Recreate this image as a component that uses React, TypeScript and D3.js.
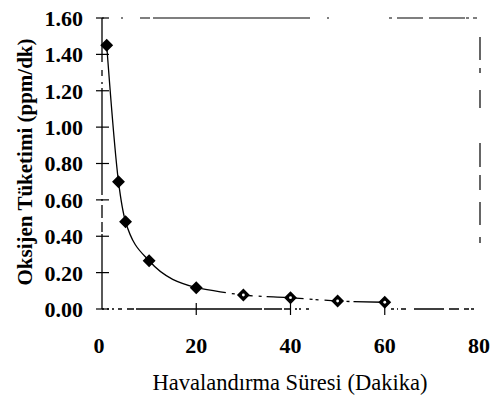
import * as d3 from "d3";
import { useRef, useEffect } from "react";

// aeration time (min) and oxygen consumption (ppm/min)
const minutes = [1, 3.5, 5, 10, 20, 30, 40, 50, 60];
const oxygen = [1.45, 0.7, 0.48, 0.265, 0.117, 0.077, 0.062, 0.044, 0.037];

const yTicks = [0, 0.2, 0.4, 0.6, 0.8, 1.0, 1.2, 1.4, 1.6];
const xTicks = [0, 20, 40, 60, 80];

const yTitle = "Oksijen Tüketimi (ppm/dk)";
const xTitle = "Havalandırma Süresi (Dakika)";

function App() {
  const width = 494;
  const height = 400;
  const svgRef = useRef(null);

  useEffect(() => {
    const svg = d3
      .select(svgRef.current)
      .attr("width", width)
      .attr("height", height)
      .attr("viewBox", `0 0 ${width} ${height}`);
    svg.selectAll("*").remove();

    const x = d3.scaleLinear().domain([0, 80]).range([102, 479]);
    const y = d3.scaleLinear().domain([0, 1.6]).range([309, 18]);
    const serif = "Liberation Serif, Tinos, Times New Roman, DejaVu Serif, serif";

    // frame: the scanned figure has broken, dash-dot looking border lines
    svg
      .append("line")
      .attr("x1", x(0))
      .attr("x2", x(0))
      .attr("y1", y(1.6))
      .attr("y2", y(0))
      .attr("stroke", "#000")
      .attr("stroke-width", 1.3)
      .attr("stroke-dasharray", "44 8 6 6 2 4 107 4 2 4 13 4 10 2 100");

    svg
      .append("line")
      .attr("x1", x(0))
      .attr("x2", x(80))
      .attr("y1", y(0))
      .attr("y2", y(0))
      .attr("stroke", "#000")
      .attr("stroke-width", 1.3)
      .attr("stroke-dasharray", "2 3 2 3 2 4 4 5 7 2 18 0 108 2 18 2 6 5 2 2 2 5 3 82 3 3 1 3 5 8 30 5 10 5 5 2 3 10");

    svg
      .append("line")
      .attr("x1", x(0))
      .attr("x2", x(80))
      .attr("y1", y(1.6))
      .attr("y2", y(1.6))
      .attr("stroke", "#000")
      .attr("stroke-width", 1.2)
      .attr("stroke-dasharray", "2 17 2 17 10 3 157 17 2 60 3 5 26 6 36 1 3 4 4 10");

    svg
      .append("line")
      .attr("x1", x(80) + 1)
      .attr("x2", x(80) + 1)
      .attr("y1", y(1.6))
      .attr("y2", y(0))
      .attr("stroke", "#000")
      .attr("stroke-width", 1.2)
      .attr("stroke-dasharray", "0 19 23 8 5 17 18 35 24 8 15 12 23 12 6 100");

    // y ticks cross the axis
    svg
      .selectAll(".ytick")
      .data(yTicks)
      .join("line")
      .attr("class", "ytick")
      .attr("x1", x(0) - 6)
      .attr("x2", x(0) + 7)
      .attr("y1", (d) => y(d))
      .attr("y2", (d) => y(d))
      .attr("stroke", "#000")
      .attr("stroke-width", 1.2);

    svg
      .selectAll(".xtick")
      .data(xTicks.slice(1, 4))
      .join("line")
      .attr("class", "xtick")
      .attr("x1", (d) => x(d))
      .attr("x2", (d) => x(d))
      .attr("y1", y(0) - 6)
      .attr("y2", y(0) + 6)
      .attr("stroke", "#000")
      .attr("stroke-width", 1.2);

    svg
      .selectAll(".ylabel")
      .data(yTicks)
      .join("text")
      .attr("class", "ylabel")
      .attr("x", 83)
      .attr("y", (d) => y(d))
      .attr("dy", "0.36em")
      .attr("text-anchor", "end")
      .attr("font-family", serif)
      .attr("font-weight", "bold")
      .attr("font-size", 22)
      .text((d) => d.toFixed(2));

    svg
      .selectAll(".xlabel")
      .data(xTicks)
      .join("text")
      .attr("class", "xlabel")
      .attr("x", (d) => x(d) - (d === 0 ? 3 : 0))
      .attr("y", 353)
      .attr("text-anchor", "middle")
      .attr("font-family", serif)
      .attr("font-weight", "bold")
      .attr("font-size", 22)
      .text((d) => d);

    svg
      .append("text")
      .attr("x", 290)
      .attr("y", 390)
      .attr("text-anchor", "middle")
      .attr("font-family", serif)
      .attr("font-size", 22.5)
      .text(xTitle);

    svg
      .append("text")
      .attr("transform", "translate(32,162) rotate(-90)")
      .attr("text-anchor", "middle")
      .attr("font-family", serif)
      .attr("font-weight", "bold")
      .attr("font-size", 21)
      .text(yTitle);

    const points = minutes.map((m, i) => ({ m, v: oxygen[i] }));

    const line = d3
      .line()
      .x((d) => x(d.m))
      .y((d) => y(d.v))
      .curve(d3.curveMonotoneX);

    // solid part of the curve up to 20 min, dash-dot after
    svg
      .append("path")
      .datum(points.slice(0, 5))
      .attr("d", line)
      .attr("fill", "none")
      .attr("stroke", "#000")
      .attr("stroke-width", 1.3);

    svg
      .append("path")
      .datum(points.slice(4))
      .attr("d", line)
      .attr("fill", "none")
      .attr("stroke", "#000")
      .attr("stroke-width", 1.3)
      .attr("stroke-dasharray", "30 6 3 4 14 6 3 5 20 5 12 6 3 3 3 6 14 8 3 4");

    // markers: small rotated squares, black with a white pin-hole
    const diamond = d3.symbol().type(d3.symbolSquare).size(58);

    svg
      .selectAll(".marker")
      .data(points)
      .join("path")
      .attr("class", "marker")
      .attr("transform", (d) => `translate(${x(d.m)},${y(d.v)}) rotate(45)`)
      .attr("d", diamond())
      .attr("fill", "#000")
      .attr("stroke", "#000")
      .attr("stroke-width", 1.5);

    svg
      .selectAll(".marker-in")
      .data(points.slice(5))
      .join("circle")
      .attr("class", "marker-in")
      .attr("cx", (d) => x(d.m))
      .attr("cy", (d) => y(d.v))
      .attr("r", 1.4)
      .attr("fill", "#fff");
  }, []);

  return (
    <svg
      ref={svgRef}
      style={{ position: "absolute", left: 0, top: 0, background: "#fff" }}
    ></svg>
  );
}

export default App;
